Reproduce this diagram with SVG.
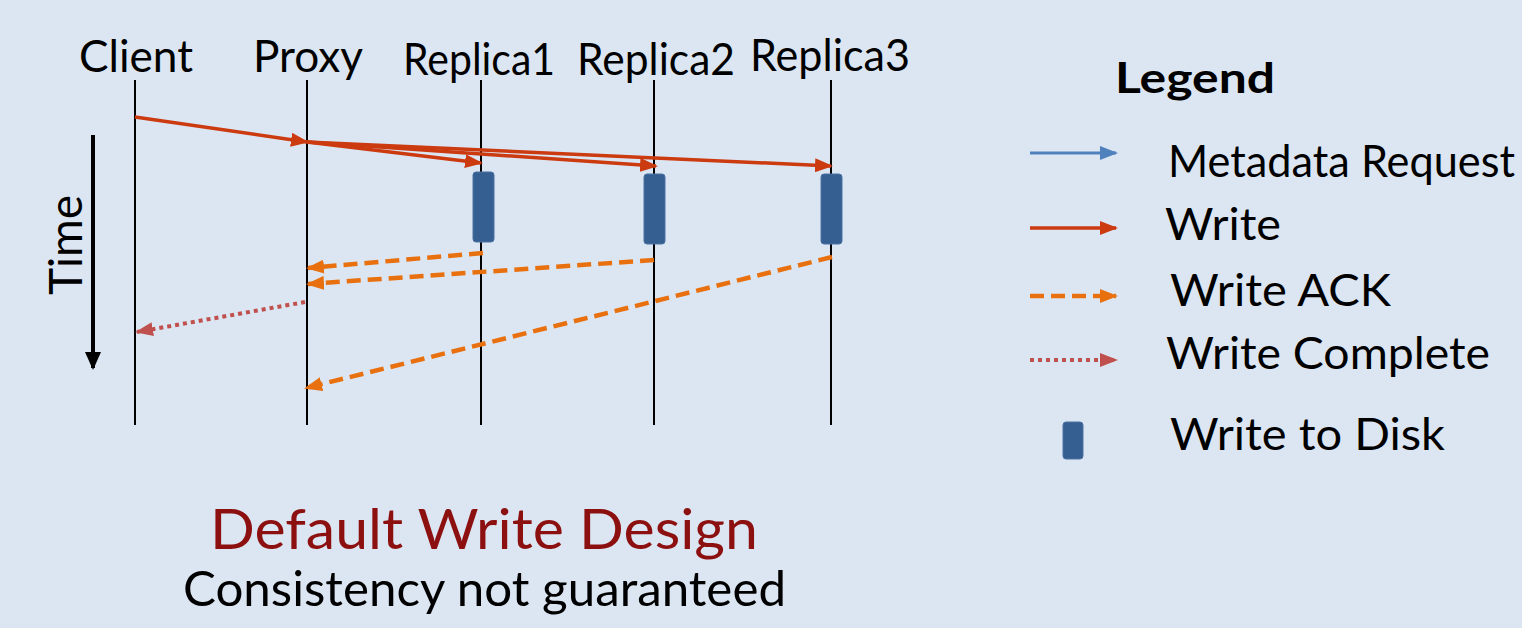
<svg xmlns="http://www.w3.org/2000/svg" width="1522" height="628" viewBox="0 0 1522 628">
<style>
text{font-family:Lato,"Open Sans","Liberation Sans",sans-serif;fill:#000}
.lbl{font-size:44px}
.life{stroke:#000;stroke-width:2}
.wr{stroke:#CC3A10;stroke-width:3.5;fill:none}
.ack{stroke:#E8700F;stroke-width:4.5;stroke-dasharray:14 7;fill:none}
.cmp{stroke:#C0504D;stroke-width:4;stroke-dasharray:4 4;fill:none}
.disk{fill:#365F91;stroke:#4A72A3;stroke-width:1}
</style>
<defs>
<marker id="hWr" markerUnits="userSpaceOnUse" markerWidth="18" markerHeight="14" refX="16" refY="7" orient="auto"><path d="M0,0 L18,7 L0,14 z" fill="#CC3A10"/></marker>
<marker id="hAck" markerUnits="userSpaceOnUse" markerWidth="18" markerHeight="14" refX="16" refY="7" orient="auto"><path d="M0,0 L18,7 L0,14 z" fill="#E8700F"/></marker>
<marker id="hCmp" markerUnits="userSpaceOnUse" markerWidth="18" markerHeight="14" refX="16" refY="7" orient="auto"><path d="M0,0 L18,7 L0,14 z" fill="#C0504D"/></marker>
<marker id="hMeta" markerUnits="userSpaceOnUse" markerWidth="18" markerHeight="14" refX="16" refY="7" orient="auto"><path d="M0,0 L18,7 L0,14 z" fill="#4F81BD"/></marker>
<marker id="hTime" markerUnits="userSpaceOnUse" markerWidth="18" markerHeight="16" refX="16" refY="8" orient="auto"><path d="M0,0 L18,8 L0,16 z" fill="#000"/></marker>
</defs>
<rect width="1522" height="628" fill="#DCE6F2"/>

<g id="client"><line class="life" x1="135" y1="80" x2="135" y2="425"/><text class="lbl" x="79" y="72" textLength="114" lengthAdjust="spacingAndGlyphs">Client</text></g>
<g id="proxy"><line class="life" x1="307" y1="80" x2="307" y2="425"/><text class="lbl" x="253" y="72" textLength="110" lengthAdjust="spacingAndGlyphs">Proxy</text></g>
<g id="replica1"><line class="life" x1="481" y1="80" x2="481" y2="425"/><text class="lbl" x="403" y="75" textLength="152" lengthAdjust="spacingAndGlyphs">Replica1</text><rect class="disk" x="473" y="172" width="21" height="70" rx="3"/></g>
<g id="replica2"><line class="life" x1="654" y1="80" x2="654" y2="425"/><text class="lbl" x="577" y="75" textLength="158" lengthAdjust="spacingAndGlyphs">Replica2</text><rect class="disk" x="644" y="174" width="21" height="70" rx="3"/></g>
<g id="replica3"><line class="life" x1="831" y1="80" x2="831" y2="425"/><text class="lbl" x="750" y="71" textLength="160" lengthAdjust="spacingAndGlyphs">Replica3</text><rect class="disk" x="821" y="174" width="21" height="70" rx="3"/></g>

<g id="time"><line x1="93" y1="135" x2="93" y2="368" stroke="#000" stroke-width="4" marker-end="url(#hTime)"/><text transform="translate(82,295) rotate(-90)" style="font-size:46px" textLength="100" lengthAdjust="spacingAndGlyphs">Time</text></g>

<g id="connectors">
<line class="wr" x1="135" y1="117" x2="307" y2="142" marker-end="url(#hWr)"/>
<line class="wr" x1="307" y1="142" x2="481" y2="163" marker-end="url(#hWr)"/>
<line class="wr" x1="307" y1="142" x2="656" y2="166" marker-end="url(#hWr)"/>
<line class="wr" x1="307" y1="142" x2="831" y2="166" marker-end="url(#hWr)"/>
<line class="ack" x1="483" y1="253" x2="308" y2="268" marker-end="url(#hAck)"/>
<line class="ack" x1="654" y1="260" x2="308" y2="284" marker-end="url(#hAck)"/>
<line class="ack" x1="832" y1="257" x2="306" y2="388" marker-end="url(#hAck)"/>
<line class="cmp" x1="305" y1="302" x2="137" y2="332" marker-end="url(#hCmp)"/>
</g>

<g id="legend">
<text x="1115" y="93" style="font-size:42px;font-weight:bold" textLength="160" lengthAdjust="spacingAndGlyphs">Legend</text>
<line x1="1030" y1="153" x2="1116" y2="153" stroke="#4F81BD" stroke-width="3" marker-end="url(#hMeta)"/>
<text class="lbl" x="1168" y="177" textLength="347" lengthAdjust="spacingAndGlyphs">Metadata Request</text>
<line class="wr" x1="1030" y1="228" x2="1116" y2="228" marker-end="url(#hWr)"/>
<text class="lbl" x="1165" y="240" textLength="116" lengthAdjust="spacingAndGlyphs">Write</text>
<line class="ack" x1="1030" y1="296" x2="1116" y2="296" marker-end="url(#hAck)"/>
<text class="lbl" x="1170" y="306" textLength="221" lengthAdjust="spacingAndGlyphs">Write ACK</text>
<line class="cmp" x1="1030" y1="360" x2="1116" y2="360" marker-end="url(#hCmp)"/>
<text class="lbl" x="1166" y="369" textLength="324" lengthAdjust="spacingAndGlyphs">Write Complete</text>
<rect class="disk" x="1063" y="422" width="20" height="37" rx="3"/>
<text class="lbl" x="1170" y="450" textLength="275" lengthAdjust="spacingAndGlyphs">Write to Disk</text>
</g>

<g id="caption">
<text x="210" y="549" style="font-size:56px;fill:#8C1010" textLength="548" lengthAdjust="spacingAndGlyphs">Default Write Design</text>
<text x="183" y="606" style="font-size:48px" textLength="603" lengthAdjust="spacingAndGlyphs">Consistency not guaranteed</text>
</g>
</svg>
